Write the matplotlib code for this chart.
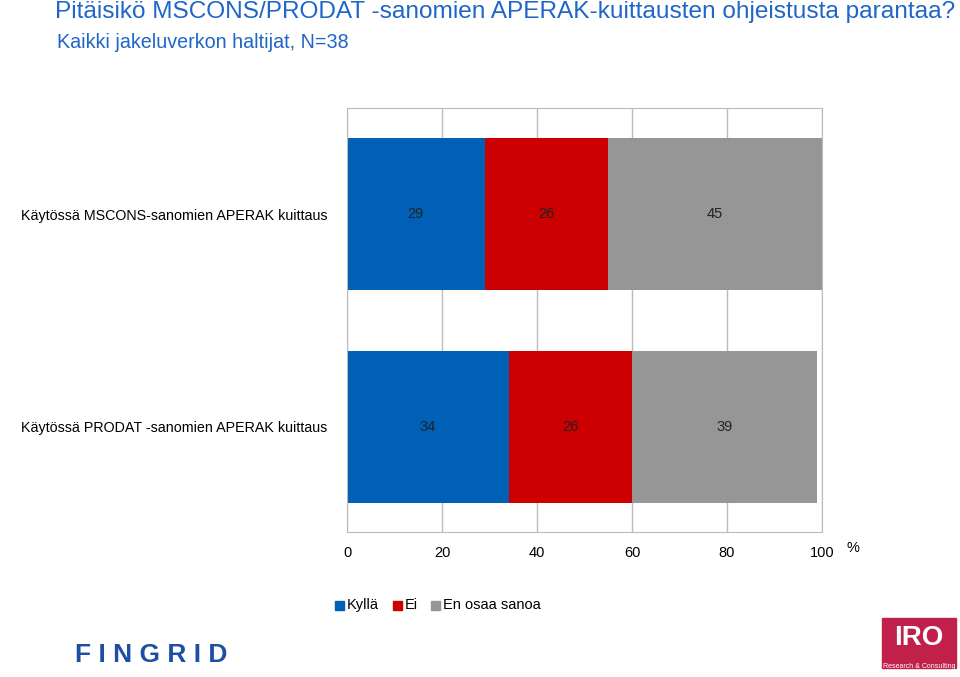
import matplotlib
matplotlib.use("Agg")
import matplotlib.pyplot as plt
from matplotlib.patches import Rectangle
plt.rcParams["font.family"] = "Liberation Sans"

categories = ["Käytössä MSCONS-sanomien APERAK kuittaus", "Käytössä PRODAT -sanomien APERAK kuittaus"]
kylla = [29, 34]
ei = [26, 26]
eos = [45, 39]
series_names = ["Kyllä", "Ei", "En osaa sanoa"]
colors = ["#0060B6", "#CC0000", "#969696"]
ticks = [0, 20, 40, 60, 80, 100]

fig = plt.figure(figsize=(9.6, 6.77), dpi=100)
ax = fig.add_axes([347/960, 1-532/677, 475/960, 424/677])
ypos = [1, 0]
left = [0, 0]
for vals, c in zip([kylla, ei, eos], colors):
    ax.barh(ypos, vals, left=left, height=0.714, color=c, zorder=2)
    for y, l, v in zip(ypos, left, vals):
        ax.text(l + v/2, y, str(v), ha="center", va="center", fontsize=10.5, color="#222222", zorder=3)
    left = [a + b for a, b in zip(left, vals)]
ax.set_xlim(0, 100)
ax.set_ylim(-0.495, 1.5)
ax.set_xticks(ticks)
ax.set_xticklabels([])
for t in ticks:
    ax.text(t, -0.495 - 0.1, str(t), ha="center", va="center", fontsize=10.5)
ax.text(106.5, -0.57, "%", ha="center", va="center", fontsize=10.5)
ax.set_yticks(ypos)
ax.set_yticklabels(categories, fontsize=10.3)
ax.tick_params(length=0, pad=14)
ax.grid(axis="x", color="#BBBBBB", lw=1, zorder=1)
for s in ax.spines.values():
    s.set_color("#BBBBBB")

fig.text(55/960, 1-12/677, "Pitäisikö MSCONS/PRODAT -sanomien APERAK-kuittausten ohjeistusta parantaa?",
         fontsize=17.6, color="#1F66C8", va="center")
fig.text(57/960, 1-42/677, "Kaikki jakeluverkon haltijat, N=38", fontsize=14.2, color="#1F66C8", va="center")

lx = [335, 393, 431]
for x, n, c in zip(lx, series_names, colors):
    fig.patches.append(Rectangle((x/960, 1-610/677), 9/960, 9/677, color=c, transform=fig.transFigure))
    fig.text((x+12)/960, 1-605/677, n, fontsize=10.5, va="center")

fig.text(75/960, 1-655/677, "F I N G R I D", fontsize=19, fontweight="bold", color="#1F4FA0", va="center")
fig.patches.append(Rectangle((882/960, 1-668/677), 74/960, 50/677, color="#C0204A", transform=fig.transFigure))
fig.text(919/960, 1-638/677, "IRO", fontsize=20, fontweight="bold", color="white", ha="center", va="center")
fig.text(919/960, 1-666/677, "Research & Consulting", fontsize=5, color="white", ha="center", va="center")

fig.savefig("out.png", dpi=100)
